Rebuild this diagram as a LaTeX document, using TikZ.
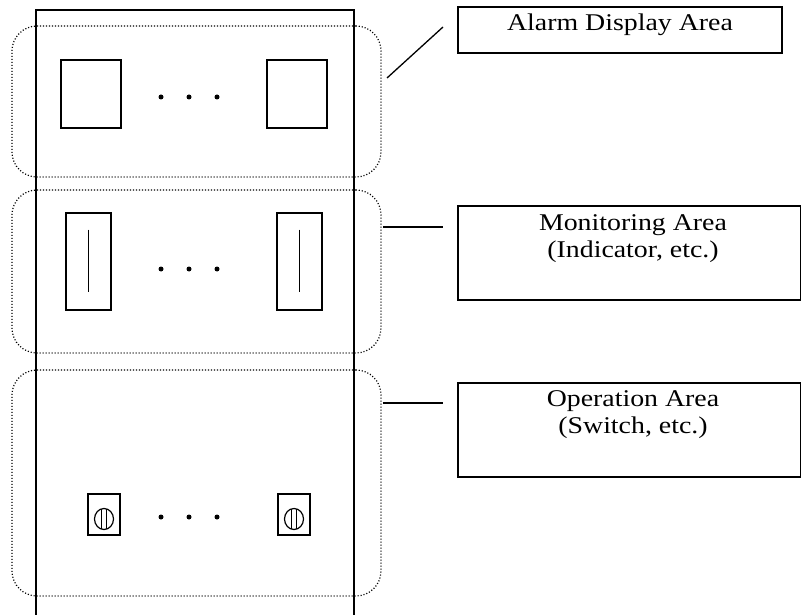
\documentclass[tikz,border=0pt]{standalone}
\usepackage{fontspec}
\setmainfont{Liberation Serif}[FakeStretch=1.16]
\usetikzlibrary{calc}
\begin{document}
\begin{tikzpicture}[x=1pt,y=-1pt,
  panel/.style={draw, line width=1.6pt, inner sep=0pt, outer sep=0pt},
  zone/.style={draw, line width=1.2pt, dash pattern=on 1.1pt off 1.9pt, rounded corners=25pt, inner sep=0pt, outer sep=0pt},
  dev/.style={draw, line width=1.5pt, inner sep=0pt, outer sep=0pt},
  dotmark/.style={circle, fill, inner sep=0pt, minimum size=5pt},
  needle/.style={line width=1.3pt},
  knob/.style={line width=1.2pt},
  labelbox/.style={draw, line width=1.3pt, inner sep=0pt, outer sep=0pt},
  lead/.style={line width=1.3pt},
  lbl/.style={font=\fontsize{24}{28}\selectfont, inner sep=0pt}]
\useasboundingbox (0,0) rectangle (801,615);
\clip (0,0) rectangle (801,615);

% main panel
\node[panel, minimum width=318, minimum height=700, anchor=north west] (panel) at (36,10) {};

% zones
\node[zone, minimum width=369, minimum height=151, anchor=north west] (zone1) at (12,26) {};
\node[zone, minimum width=369, minimum height=163, anchor=north west] (zone2) at (12,190) {};
\node[zone, minimum width=369, minimum height=226, anchor=north west] (zone3) at (12,370) {};

% alarm lamps
\node[dev, minimum width=60, minimum height=68, anchor=north west] (lampA) at (61,60) {};
\node[dev, minimum width=60, minimum height=68, anchor=north west] (lampB) at (267,60) {};
\node[dotmark] (d1a) at (161,97) {};
\node[dotmark] (d1b) at (189,97) {};
\node[dotmark] (d1c) at (217,97) {};

% indicators
\node[dev, minimum width=45, minimum height=97, anchor=north west] (indA) at (66,213) {};
\node[dev, minimum width=45, minimum height=97, anchor=north west] (indB) at (277,213) {};
\draw[needle] ($(indA.center)+(0,-32)$) -- ($(indA.center)+(0,30)$);
\draw[needle] ($(indB.center)+(0,-32)$) -- ($(indB.center)+(0,30)$);
\node[dotmark] (d2a) at (161,269) {};
\node[dotmark] (d2b) at (189,269) {};
\node[dotmark] (d2c) at (217,269) {};

% switches
\node[dev, minimum width=32, minimum height=41, anchor=north west] (swA) at (88,494) {};
\node[dev, minimum width=32, minimum height=41, anchor=north west] (swB) at (278,494) {};
\foreach \s in {swA,swB} {
  \coordinate (k\s) at ($(\s.center)+(0,4.5)$);
  \draw[knob] (k\s) ellipse [x radius=9.5, y radius=10.5];
  \draw[knob] ($(k\s)+(-2.2,-10.2)$) -- ($(k\s)+(-2.2,10.2)$);
  \draw[knob] ($(k\s)+(2.2,-10.2)$) -- ($(k\s)+(2.2,10.2)$);
}
\node[dotmark] (d3a) at (161,517) {};
\node[dotmark] (d3b) at (189,517) {};
\node[dotmark] (d3c) at (217,517) {};

% label boxes
\node[labelbox, minimum width=324, minimum height=46, anchor=north west] (alarmbox) at (458,7) {};
\node[labelbox, minimum width=343, minimum height=94, anchor=north west] (monbox) at (458,206) {};
\node[labelbox, minimum width=343, minimum height=94, anchor=north west] (opbox) at (458,383) {};

\node[lbl, anchor=base] (alarmtxt) at (620,31) {Alarm Display Area};
\node[lbl, anchor=base] (montxt1) at (633,230) {Monitoring Area};
\node[lbl, anchor=base] (montxt2) at (633,257) {(Indicator, etc.)};
\node[lbl, anchor=base] (optxt1) at (633,406) {Operation Area};
\node[lbl, anchor=base] (optxt2) at (633,433) {(Switch, etc.)};

% leader lines
\coordinate (l1a) at (387,78);
\coordinate (l1b) at (443,27);
\coordinate (l2a) at (383,227);
\coordinate (l2b) at (443,227);
\coordinate (l3a) at (383,403);
\coordinate (l3b) at (443,403);
\draw[lead] (l1a) -- (l1b);
\draw[lead] (l2a) -- (l2b);
\draw[lead] (l3a) -- (l3b);
\end{tikzpicture}
\end{document}
